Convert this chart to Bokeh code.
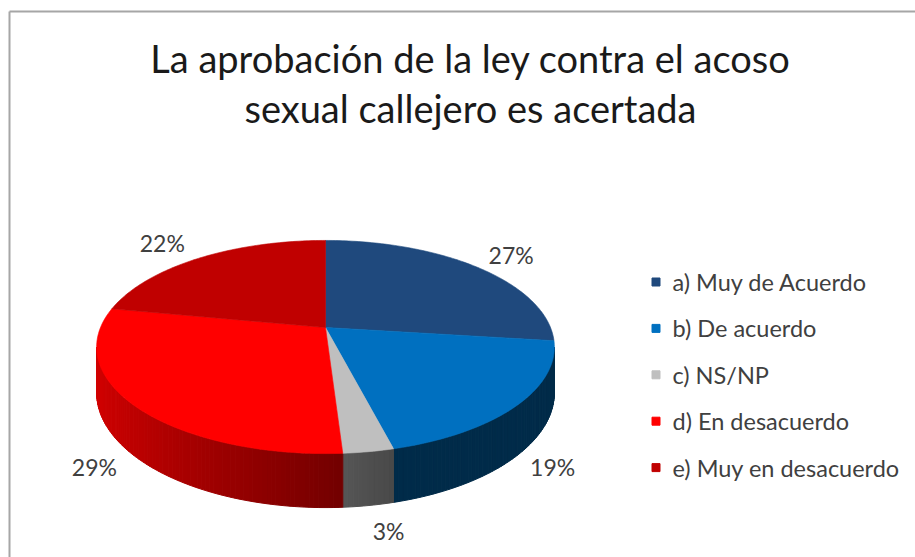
import math
from bokeh.plotting import figure
from bokeh.models import Range1d
from bokeh.core.properties import value
from bokeh.embed import file_html
from bokeh.resources import INLINE

# ---------------- data ----------------
categories = ["a) Muy de Acuerdo", "b) De acuerdo", "c) NS/NP",
              "d) En desacuerdo", "e) Muy en desacuerdo"]
percentages = [27, 19, 3, 29, 22]
colors = ["#1F497D", "#0070C0", "#BFBFBF", "#FF0000", "#C00000"]
title_lines = ["La aprobación de la ley contra el acoso",
               "sexual callejero es acertada"]

# ---------------- layout (page pixels) ----------------
W, H = 915, 557
CX, CY = 325.0, 327.0      # projected centre of the top face
SX, SY = 225.0, 103.0      # horizontal / vertical radius scale
K = 5.46                   # perspective strength
DEPTH = 44.1               # thickness of the pie
FONT = "Lato"

p = figure(width=W, height=H, output_backend="svg", toolbar_location=None,
           x_range=Range1d(0, W), y_range=Range1d(H, 0),
           x_axis_location=None, y_axis_location=None, min_border=0)
p.grid.visible = False
p.outline_line_color = None
p.background_fill_color = "white"


def proj(theta, drop=0.0):
    s, c = math.sin(theta), math.cos(theta)
    f = K / (K + c)
    return CX + SX * s * f, CY - SY * c * f + DEPTH * f * drop


def shade(hex_color, fac):
    r, g, b = (int(hex_color[i:i + 2], 16) for i in (1, 3, 5))
    return "#%02x%02x%02x" % tuple(max(0, min(255, int(round(v * fac)))) for v in (r, g, b))


total = float(sum(percentages))
bounds = [0.0]
for v in percentages:
    bounds.append(bounds[-1] + v / total * 2 * math.pi)

# visible (front-facing) part of the rim
th_left = math.acos(-1.0 / K)
th_right = 2 * math.pi - th_left

# ---- side walls ----
side_xs, side_ys, side_cols = [], [], []
for i, col in enumerate(colors):
    a0, a1 = max(bounds[i], th_left), min(bounds[i + 1], th_right)
    if a1 <= a0:
        continue
    n = max(2, int(math.degrees(a1 - a0) / 1.0))
    for j in range(n):
        ta = a0 + (a1 - a0) * j / n
        tb = a0 + (a1 - a0) * (j + 1) / n
        xa, ya = proj(ta)
        xb, yb = proj(tb)
        xc, yc = proj(tb, 1.0)
        xd, yd = proj(ta, 1.0)
        side_xs.append([xa, xb, xc, xd])
        side_ys.append([ya, yb, yc, yd])
        fac = max(0.38, 0.47 - 0.36 * math.sin((ta + tb) / 2))
        side_cols.append(shade(col, fac))
p.patches(side_xs, side_ys, fill_color=side_cols, line_color=side_cols, line_width=1)

# ---- top faces ----
top_xs, top_ys = [], []
for i in range(len(percentages)):
    a0, a1 = bounds[i], bounds[i + 1]
    n = max(3, int(math.degrees(a1 - a0)))
    xs, ys = [CX], [CY]
    for j in range(n + 1):
        x, y = proj(a0 + (a1 - a0) * j / n)
        xs.append(x)
        ys.append(y)
    top_xs.append(xs)
    top_ys.append(ys)
p.patches(top_xs, top_ys, fill_color=colors, line_color=colors, line_width=0.6)

# ---- data labels ----
lx, ly, ltxt, lalign = [], [], [], []
for i, v in enumerate(percentages):
    mid = (bounds[i] + bounds[i + 1]) / 2
    s, c = math.sin(mid), math.cos(mid)
    ax, ay = proj(mid, 1.0 if c < 0 else 0.0)
    gap = 6 + 14 * abs(s)
    lx.append(ax + (gap - 4 if s >= 0 else -gap))
    ly.append(ay - 26 * c * abs(c))
    ltxt.append(f"{v}%")
    lalign.append("left" if s >= 0 else "right")
for x, y, t, al in zip(lx, ly, ltxt, lalign):
    p.text(x=[x], y=[y], text=[t], text_align=al, text_baseline="middle",
           text_font=value(FONT), text_font_size="23px", text_color="#404040")

# ---- legend ----
leg_y = [281.5 + 46.4 * i for i in range(len(categories))]
p.scatter(x=[655.5] * len(categories), y=leg_y, marker="square", size=8,
          fill_color=colors, line_color=colors)
p.text(x=[672] * len(categories), y=leg_y, text=categories, text_baseline="middle",
       text_font=value(FONT), text_font_size="23.5px", text_color="#404040")

# ---- title ----
p.text(x=[470, 470], y=[57, 107], text=title_lines, text_align="center",
       text_baseline="middle", text_font=value(FONT), text_font_size="38px",
       text_color="#1a1a1a")

# ---- chart border (top / left) ----
p.segment(x0=[9, 9], y0=[11, 11], x1=[W, 9], y1=[11, H],
          line_color="#a6a6a6", line_width=2)

open("out.html", "w").write(file_html(p, INLINE))
